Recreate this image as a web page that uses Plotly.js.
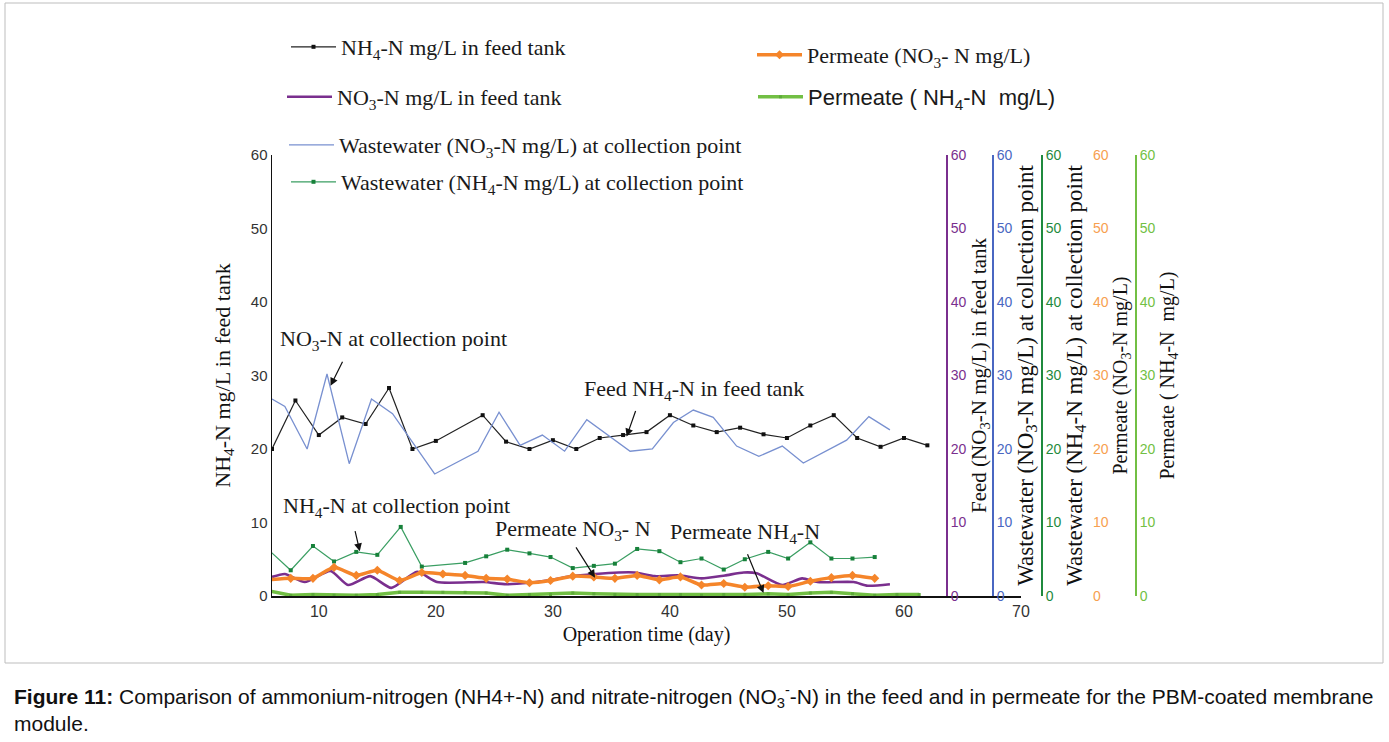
<!DOCTYPE html>
<html>
<head>
<meta charset="utf-8">
<script src="https://cdn.plot.ly/plotly-3.0.1.min.js"></script>
<style>
  body { margin: 0; background: #fff; }
  #graph { width: 1389px; height: 742px; }
</style>
</head>
<body>
<div id="graph"></div>
<script>
// NH4-N in the feed tank (black)
var dayNh4Feed = [6, 8, 10, 12, 14, 16, 18, 20, 24, 26, 28, 30, 32, 34, 36, 38, 40, 42, 44, 46, 48, 50, 52, 54, 56, 58, 60, 62];
var nh4Feed = [20.0, 26.6, 21.9, 24.3, 23.4, 28.3, 20.0, 21.1, 24.6, 21.0, 20.0, 21.2, 20.0, 21.5, 21.9, 22.3, 24.6, 23.2, 22.3, 22.9, 22.0, 21.5, 23.2, 24.6, 21.5, 20.3, 21.5, 20.5];

// NO3-N in the feed tank (purple)
var dayNo3Feed = [6, 7.1, 8.8, 11, 12.5, 14.4, 16.2, 18.4, 20.1, 24.1, 26, 28, 29.9, 31.6, 33.6, 35.6, 37, 38.7, 40.7, 42.7, 44.7, 46.3, 47.4, 49.6, 51.3, 52.6, 55.7, 56.9, 58.8];
var no3Feed = [2.6, 3.0, 1.9, 3.4, 1.5, 2.7, 1.1, 3.3, 1.9, 1.9, 1.6, 1.8, 2.2, 2.7, 3.0, 3.2, 3.2, 2.7, 2.8, 2.4, 2.8, 3.2, 3.1, 1.5, 2.4, 1.9, 1.9, 1.4, 1.6];

// wastewater NO3-N at collection point (blue)
var dayNo3Coll = [6, 7.1, 9, 10.7, 12.6, 14.5, 16.3, 19.9, 23.6, 25.4, 27.2, 29.1, 31, 32.9, 36.6, 38.5, 40.3, 42, 43.7, 45.7, 47.6, 49.6, 51.4, 55.1, 57, 58.8];
var no3Coll = [26.8, 25.8, 20.0, 30.2, 18.0, 26.8, 24.8, 16.6, 19.7, 25.0, 20.5, 21.9, 19.7, 24.0, 19.7, 20.0, 23.6, 25.3, 24.3, 20.4, 19.0, 20.4, 18.1, 21.2, 24.4, 22.6];

// wastewater NH4-N at collection point (dark green)
var dayNh4Coll = [4.8, 5.7, 7.6, 9.5, 11.3, 13.2, 15, 17, 18.8, 22.5, 24.3, 26.1, 28, 29.8, 31.7, 33.5, 35.3, 37.2, 39.1, 40.9, 42.7, 44.6, 46.4, 48.4, 50.1, 52, 53.8, 55.6, 57.5];
var nh4Coll = [8.6, 6.3, 3.5, 6.8, 4.7, 6.0, 5.6, 9.4, 4.0, 4.5, 5.4, 6.3, 5.8, 5.3, 3.8, 4.1, 4.4, 6.4, 6.1, 4.6, 5.1, 3.6, 5.0, 6.0, 5.1, 7.3, 5.1, 5.1, 5.3];

// permeate NO3-N (orange)
var dayNo3Perm = [5.7, 7.6, 9.5, 11.3, 13.2, 15, 16.9, 18.8, 20.6, 22.5, 24.3, 26.1, 28, 29.8, 31.7, 33.5, 35.3, 37.2, 39.1, 40.9, 42.7, 44.6, 46.4, 48.4, 50.1, 52, 53.8, 55.6, 57.5];
var no3Perm = [2.2, 2.4, 2.4, 3.9, 2.8, 3.5, 2.1, 3.2, 3.0, 2.8, 2.4, 2.3, 1.8, 2.1, 2.7, 2.6, 2.4, 2.8, 2.2, 2.6, 1.5, 1.7, 1.2, 1.4, 1.3, 2.0, 2.5, 2.8, 2.4];

// permeate NH4-N (light green)
var dayNh4Perm = [5.7, 7.6, 9.5, 11.3, 13.2, 15, 16.9, 18.8, 20.6, 22.5, 24.3, 26.1, 28, 29.8, 31.7, 33.5, 35.3, 37.2, 39.1, 40.9, 42.7, 44.6, 46.4, 48.4, 50.1, 52, 53.8, 55.6, 57.5, 59.4, 61.3];
var nh4Perm = [0.7, 0.1, 0.2, 0.1, 0.1, 0.2, 0.5, 0.5, 0.5, 0.5, 0.4, 0.1, 0.2, 0.2, 0.4, 0.3, 0.2, 0.2, 0.2, 0.2, 0.1, 0.2, 0.2, 0.3, 0.2, 0.4, 0.5, 0.3, 0.1, 0.2, 0.2];

var xTicks = [10, 20, 30, 40, 50, 60, 70];

// margins are zero, so paper coords are just pixels / size
var W = 1389, H = 742;
function px(x) { return x / W; }
function py(y) { return 1 - y / H; }

var serif = 'Liberation Serif, Times New Roman, serif';
var sans = 'Liberation Sans, Arial, sans-serif';

var purple = '#7a2f8e', blue = '#4a67c2', dkGreen = '#1f8a3e', orange = '#f5852a', ltGreen = '#72bf44';

var traces = [
    {
        x: dayNo3Coll, y: no3Coll, yaxis: 'y3', legend: 'legend3',
        name: 'Wastewater (NO<sub>3</sub>-N mg/L) at collection point',
        mode: 'lines', line: {color: '#7890d0', width: 1.3}
    },
    {
        x: dayNh4Feed, y: nh4Feed, yaxis: 'y', legend: 'legend',
        name: 'NH<sub>4</sub>-N mg/L in feed tank',
        mode: 'lines+markers', line: {color: '#222', width: 1.2},
        marker: {symbol: 'square', size: 4, color: '#111'}
    },
    {
        x: dayNh4Coll, y: nh4Coll, yaxis: 'y4', legend: 'legend4',
        name: 'Wastewater (NH<sub>4</sub>-N mg/L) at collection point',
        mode: 'lines+markers', line: {color: '#3a9e62', width: 1.2},
        marker: {symbol: 'square', size: 4, color: '#17813a'}
    },
    {
        x: dayNh4Perm, y: nh4Perm, yaxis: 'y6', legend: 'legend6',
        name: 'Permeate ( NH<sub>4</sub>-N  mg/L)',
        mode: 'lines+markers', line: {color: ltGreen, width: 3.5},
        marker: {symbol: 'square', size: 3, color: '#5eaa3a'}
    },
    {
        x: dayNo3Feed, y: no3Feed, yaxis: 'y2', legend: 'legend2',
        name: 'NO<sub>3</sub>-N mg/L in feed tank',
        mode: 'lines', line: {color: purple, width: 2.6, shape: 'spline', smoothing: 0.6}
    },
    {
        x: dayNo3Perm, y: no3Perm, yaxis: 'y5', legend: 'legend5',
        name: 'Permeate (NO<sub>3</sub>- N mg/L)',
        mode: 'lines+markers', line: {color: orange, width: 3.5, shape: 'spline', smoothing: 0.5},
        marker: {symbol: 'diamond', size: 7, color: orange}
    }
];

// one legend per entry so each row can sit where it does in the figure
function legendAt(x, y, family) {
    return {
        x: px(x), y: py(y), xanchor: 'left', yanchor: 'middle',
        bgcolor: 'rgba(0,0,0,0)', borderwidth: 0, itemwidth: 45,
        font: {family: family || serif, size: 22, color: '#1a1a1a'}
    };
}

// right-hand overlay axes, all 0-60
function sideAxis(pos, color, title, showLine, titleSize) {
    return {
        overlaying: 'y', side: 'right', anchor: 'free', position: px(pos),
        range: [0, 60], dtick: 10, showgrid: false, zeroline: false, ticks: '',
        showline: showLine, linecolor: color, linewidth: 2,
        tickfont: {family: sans, size: 14, color: color},
        title: {text: title, font: {family: serif, size: titleSize, color: '#111'}, standoff: 2}
    };
}

var arrowStyle = {showarrow: true, arrowhead: 2, arrowsize: 1.3, arrowwidth: 1.2, arrowcolor: '#111', text: ' '};

// arrow tips point at the curves, tails given as pixel offsets
var arrows = [
    {x: 11.0, y: 28.6, ax: 15, ay: -30},
    {x: 36.3, y: 21.7, ax: 12, ay: -34},
    {x: 13.5, y: 6.1, ax: -7, ay: -30},
    {x: 33.6, y: 2.5, ax: -22, ay: -35},
    {x: 48.0, y: 0.4, ax: -19, ay: -46}
].map(function(a) {
    return Object.assign({xref: 'x', yref: 'y', axref: 'pixel', ayref: 'pixel'}, arrowStyle, a);
});

var labelFont = {family: serif, size: 22, color: '#1a1a1a'};
var labels = [
    {text: 'NO<sub>3</sub>-N at collection point', x: 278, y: 340},
    {text: 'Feed NH<sub>4</sub>-N in feed tank', x: 582, y: 390},
    {text: 'NH<sub>4</sub>-N at collection point', x: 281, y: 507},
    {text: 'Permeate NO<sub>3</sub>- N', x: 493, y: 530},
    {text: 'Permeate NH<sub>4</sub>-N', x: 668, y: 533}
].map(function(l) {
    return {
        text: l.text, x: px(l.x), y: py(l.y), xref: 'paper', yref: 'paper',
        xanchor: 'left', yanchor: 'middle', showarrow: false, font: labelFont
    };
});

// figure caption under the boxed chart
labels.push({
    text: '<b>Figure 11:</b> Comparison of ammonium-nitrogen (NH4+-N) and nitrate-nitrogen (NO<sub>3</sub><sup>-</sup>-N) in the feed and in permeate for the PBM-coated membrane<br>module.',
    x: px(12), y: py(680), xref: 'paper', yref: 'paper', xanchor: 'left', yanchor: 'top',
    align: 'left', showarrow: false, font: {family: sans, size: 21, color: '#111'}
});

var layout = {
    width: W, height: H,
    margin: {l: 0, r: 0, t: 0, b: 0},
    paper_bgcolor: '#fff', plot_bgcolor: 'rgba(0,0,0,0)',
    showlegend: true,
    xaxis: {
        domain: [px(272), px(1021)], range: [6, 70],
        tickvals: xTicks, showgrid: false, zeroline: false, ticks: '',
        showline: true, linecolor: '#111', linewidth: 1.5,
        tickfont: {family: sans, size: 16, color: '#333'},
        title: {text: 'Operation time (day)', font: {family: serif, size: 20, color: '#111'}, standoff: 8}
    },
    yaxis: {
        domain: [py(596), py(155)], range: [0, 60], dtick: 10,
        showgrid: false, zeroline: false, ticks: '',
        showline: true, linecolor: '#111', linewidth: 1.5,
        tickfont: {family: sans, size: 15, color: '#333'},
        title: {text: 'NH<sub>4</sub>-N mg/L in feed tank', font: {family: serif, size: 22, color: '#111'}, standoff: 14}
    },
    yaxis2: sideAxis(947, purple, 'Feed (NO<sub>3</sub>-N mg/L) in feed tank', true, 21),
    yaxis3: sideAxis(993, blue, 'Wastewater (NO<sub>3</sub>-N mg/L) at collection point', true, 23),
    yaxis4: sideAxis(1042, dkGreen, 'Wastewater (NH<sub>4</sub>-N mg/L) at collection point', true, 23),
    yaxis5: sideAxis(1092, '#f7a050', 'Permeate (NO<sub>3</sub>-N mg/L)', false, 20),
    yaxis6: sideAxis(1136, ltGreen, 'Permeate ( NH<sub>4</sub>-N  mg/L)', true, 20),
    legend: legendAt(286, 47),
    legend2: legendAt(282, 97),
    legend3: legendAt(284, 145),
    legend4: legendAt(286, 182),
    legend5: legendAt(752, 55),
    legend6: legendAt(753, 97, sans),
    annotations: arrows.concat(labels),
    shapes: [{
        type: 'rect', xref: 'paper', yref: 'paper',
        x0: px(5), x1: px(1383), y0: py(663), y1: py(3),
        line: {color: '#bdbdbd', width: 1}
    }]
};

Plotly.newPlot('graph', traces, layout, {displayModeBar: false, staticPlot: true});
</script>
</body>
</html>
